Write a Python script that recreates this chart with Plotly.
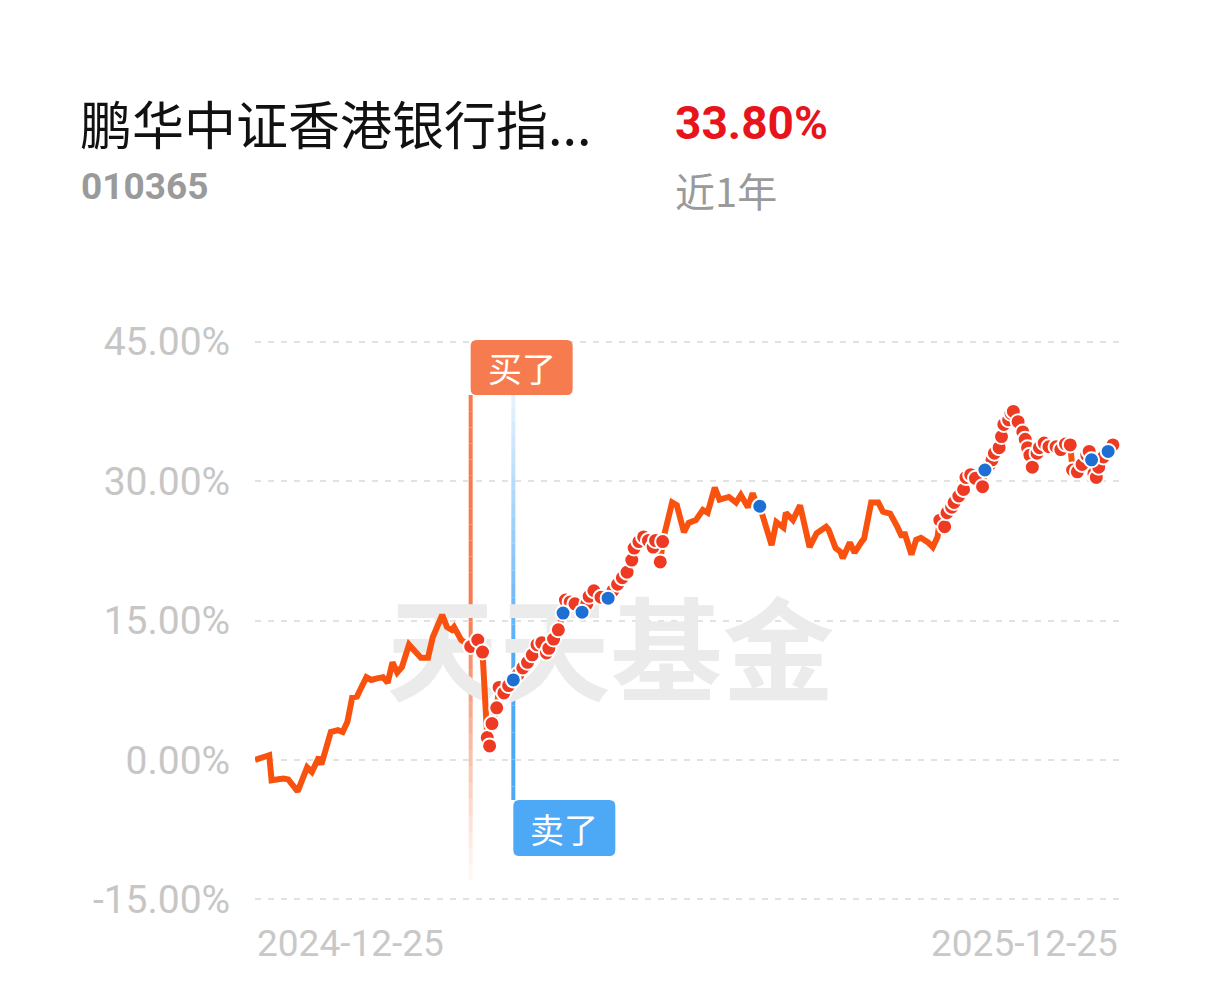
import datetime as dt
import plotly.graph_objects as go

# ---------------- data ----------------
start_date = "2024-12-25"
end_date = "2025-12-25"
day_offset = [0, 6, 7, 12, 14, 18, 22, 24, 27, 28, 32, 35, 37, 39, 41, 43, 47, 49, 52, 54,
              56, 58, 60, 62, 65, 68, 70, 73, 75, 79, 81, 83, 84, 87,
              91, 94, 96, 98, 99, 100, 102, 103, 105, 107, 109, 111, 113, 115, 117, 119,
              121, 123, 124, 126, 128, 130, 131, 133, 135, 138, 140, 141, 143, 146, 149, 151,
              153, 155, 157, 159, 160, 162, 164, 166, 168, 169, 171, 172,
              174, 176, 178, 181, 183, 186, 189, 191, 194, 196, 200, 203, 205, 208, 210, 211,
              213, 215, 218, 220, 223, 224, 227, 230, 234, 237, 241, 242, 245, 247, 248, 251,
              253, 256, 257, 260, 263, 265, 268, 271, 273, 274, 277, 279, 281, 284, 286, 288,
              289, 291, 292, 294, 295, 297, 299, 300, 302, 304, 307, 308, 310, 311, 312, 314,
              315, 316, 318, 319, 320, 322, 324, 325, 326, 327, 328, 330, 331, 333, 335, 338,
              340, 342, 344, 345, 347, 349, 351, 352, 353, 354, 355, 356, 358, 360, 362, 365]
returns = [0.0, 0.5, -2.2, -2.0, -2.1, -3.4, -0.8, -1.3, 0.3, -0.5, 3.0, 3.2, 3.0, 4.1, 6.7, 6.8, 8.9, 8.6, 8.8, 8.9,
           8.3, 10.5, 9.4, 10.0, 12.4, 11.6, 11.0, 11.0, 13.2, 15.6, 14.3, 14.0, 14.3, 12.9,
           12.2, 12.9, 11.6, 2.4, 1.5, 3.9, 5.6, 7.8, 7.2, 8.0, 8.6, 9.2, 9.9, 10.5, 11.3, 12.4,
           12.6, 11.5, 12.0, 13.0, 14.0, 15.8, 17.2, 17.0, 16.8, 15.9, 16.8, 17.6, 18.2, 17.5, 17.4, 18.2,
           18.9, 19.6, 20.2, 21.5, 22.8, 23.5, 24.0, 23.6, 22.9, 23.6, 21.3, 23.5,
           25.5, 27.7, 27.4, 24.5, 25.5, 25.8, 26.9, 26.6, 29.3, 28.0, 28.3, 27.7, 28.5, 27.2, 28.7, 28.0,
           27.3, 25.5, 23.1, 25.6, 25.0, 26.6, 25.8, 27.4, 22.9, 24.4, 25.1, 24.8, 22.8, 22.4, 21.7, 23.4,
           22.3, 23.5, 23.8, 27.7, 27.7, 26.7, 26.5, 25.1, 24.0, 24.5, 22.1, 23.7, 23.9, 23.4, 22.9, 24.0,
           25.8, 25.1, 26.6, 27.2, 27.7, 28.4, 29.1, 30.4, 30.7, 30.3, 29.4, 31.2, 31.8, 32.3, 33.0, 33.6,
           34.8, 36.1, 36.6, 37.3, 37.5, 36.4, 35.3, 34.5, 33.6, 32.8, 31.5, 33.0, 33.6, 34.1, 33.7, 33.7,
           33.4, 34.0, 33.9, 31.2, 31.0, 31.8, 32.8, 33.2, 32.3, 30.8, 30.4, 31.5, 32.6, 33.2, 33.9, 33.8]
# n = plain line, r = red dot, b = blue dot
dot_kind = (["n"] * 34
            + ["r"] * 10 + ["b"] + ["r"] * 10 + ["b"] + ["r"] * 3 + ["b"] + ["r"] * 4 + ["b"] + ["r"] * 13
            + ["n"] * 16 + ["b"] + ["n"] * 31
            + ["r"] * 11 + ["b"] + ["r"] * 28 + ["b"] + ["r"] * 4 + ["b"] + ["r"] + ["n"])
assert len(day_offset) == len(returns) == len(dot_kind)

buy_date = "2025-03-26"
sell_date = "2025-04-13"
y_ticks = [-15, 0, 15, 30, 45]
y_tick_labels = ["-15.00%", "0.00%", "15.00%", "30.00%", "45.00%"]
x_labels = ["2024-12-25", "2025-12-25"]
fund_name = "鹏华中证香港银行指..."
fund_code = "010365"
period_return = "33.80%"
period_label = "近1年"
watermark = "天天基金"

# ---------------- layout geometry ----------------
W, H = 1218, 1000
L, R, T, B = 255, 98, 339, 98
PW, PH = W - L - R, H - T - B


def pxx(px):
    return (px - L) / PW


def pxy(py):
    return (H - B - py) / PH


d0 = dt.date.fromisoformat(start_date)
dates = [(d0 + dt.timedelta(days=d)).isoformat() for d in day_offset]

LINE_C = "#F9520F"
RED_C = "#EE3A22"
BLUE_C = "#1E6FD3"
BUY_C = "#F67B4E"
SELL_C = "#4DA8F6"
CJK = "Noto Sans CJK SC"

fig = go.Figure()

# watermark (behind the line)
fig.add_trace(go.Scatter(
    x=["2025-05-24"], y=[10.2], mode="text", text=[watermark],
    textfont=dict(family=CJK, size=112, color="#ebebeb", weight="bold"),
    hoverinfo="skip", showlegend=False))

fig.add_trace(go.Scatter(
    x=dates, y=returns, mode="lines",
    line=dict(color=LINE_C, width=6, shape="linear"),
    hoverinfo="skip", showlegend=False))

for kind, col in (("r", RED_C), ("b", BLUE_C)):
    xs = [d for d, k in zip(dates, dot_kind) if k == kind]
    ys = [v for v, k in zip(returns, dot_kind) if k == kind]
    fig.add_trace(go.Scatter(
        x=xs, y=ys, mode="markers",
        marker=dict(color=col, size=15, line=dict(color="white", width=2)),
        hoverinfo="skip", showlegend=False))

shapes = []
n = 30
# buy vertical line, fading towards the bottom
y_top, y_bot = pxy(395), pxy(880)
for i in range(n):
    a = y_top + (y_bot - y_top) * i / n
    b = y_top + (y_bot - y_top) * (i + 1) / n
    t = (i + 0.5) / n
    op = 1.0 if t < 0.45 else max(0.05, 1 - (t - 0.45) / 0.55)
    shapes.append(dict(type="line", xref="x", yref="paper", x0=buy_date, x1=buy_date,
                       y0=a, y1=b, line=dict(color=BUY_C, width=4), opacity=op, layer="below"))
# sell vertical line, faint at the top
y_top, y_bot = pxy(395), pxy(800)
for i in range(n):
    a = y_top + (y_bot - y_top) * i / n
    b = y_top + (y_bot - y_top) * (i + 1) / n
    t = (i + 0.5) / n
    op = min(1.0, 0.12 + t * 1.3)
    shapes.append(dict(type="line", xref="x", yref="paper", x0=sell_date, x1=sell_date,
                       y0=a, y1=b, line=dict(color=SELL_C, width=4), opacity=op, layer="below"))


def rounded_box(w, h, r):
    hh = h / 2
    return (f"M {r},{hh} L {w - r},{hh} Q {w},{hh} {w},{hh - r} L {w},{-hh + r} "
            f"Q {w},{-hh} {w - r},{-hh} L {r},{-hh} Q 0,{-hh} 0,{-hh + r} L 0,{hh - r} Q 0,{hh} {r},{hh} Z")


shapes.append(dict(type="path", xref="x", yref="paper", xsizemode="pixel", ysizemode="pixel",
                   xanchor=buy_date, yanchor=pxy(367.5), path=rounded_box(102, 55, 6),
                   fillcolor=BUY_C, line=dict(width=0), layer="above"))
shapes.append(dict(type="path", xref="x", yref="paper", xsizemode="pixel", ysizemode="pixel",
                   xanchor=sell_date, yanchor=pxy(828), path=rounded_box(102, 56, 6),
                   fillcolor=SELL_C, line=dict(width=0), layer="above"))

annotations = [
    dict(text="买了", xref="x", yref="paper", x=buy_date, y=pxy(367.5), xshift=51,
         showarrow=False, font=dict(family=CJK, size=34, color="white"),
         xanchor="center", yanchor="middle"),
    dict(text="卖了", xref="x", yref="paper", x=sell_date, y=pxy(828), xshift=51,
         showarrow=False, font=dict(family=CJK, size=34, color="white"),
         xanchor="center", yanchor="middle"),
    dict(text=x_labels[0], xref="paper", yref="paper", x=0, y=pxy(943), showarrow=False,
         xanchor="left", yanchor="middle", font=dict(family="Roboto", size=37, color="#c8c8c8")),
    dict(text=x_labels[1], xref="paper", yref="paper", x=1, y=pxy(943), showarrow=False,
         xanchor="right", yanchor="middle", font=dict(family="Roboto", size=37, color="#c8c8c8")),
    dict(text=fund_name, xref="paper", yref="paper", x=pxx(78), y=pxy(123), showarrow=False,
         xanchor="left", yanchor="middle", font=dict(family=CJK, size=52, color="#111111")),
    dict(text=f"<b>{fund_code}</b>", xref="paper", yref="paper", x=pxx(79), y=pxy(186), showarrow=False,
         xanchor="left", yanchor="middle", font=dict(family="Roboto", size=37, color="#9a9a9a")),
    dict(text=f"<b>{period_return}</b>", xref="paper", yref="paper", x=pxx(673), y=pxy(123), showarrow=False,
         xanchor="left", yanchor="middle", font=dict(family="Roboto", size=46, color="#E8141B")),
    dict(text=period_label, xref="paper", yref="paper", x=pxx(673), y=pxy(190), showarrow=False,
         xanchor="left", yanchor="middle", font=dict(family=CJK, size=40, color="#9a9a9a")),
]

fig.update_layout(
    width=W, height=H, autosize=False,
    margin=dict(l=L, r=R, t=T, b=B, pad=0),
    paper_bgcolor="white", plot_bgcolor="white",
    showlegend=False,
    shapes=shapes, annotations=annotations,
    xaxis=dict(type="date", range=[start_date, end_date], showgrid=False, zeroline=False,
               showticklabels=False, showline=False, ticks=""),
    yaxis=dict(range=[-15.3, 45.3], tickvals=y_ticks, ticktext=y_tick_labels,
               showgrid=True, gridcolor="#e2e2e2", gridwidth=2, griddash="6px,7px",
               zeroline=False, showline=False, ticks="outside", ticklen=16,
               tickcolor="rgba(0,0,0,0)",
               tickfont=dict(family="Roboto", size=39, color="#c6c6c6")),
)

fig.write_html("out.html", config={"displayModeBar": False},
               post_script="document.body.style.margin='0';")
